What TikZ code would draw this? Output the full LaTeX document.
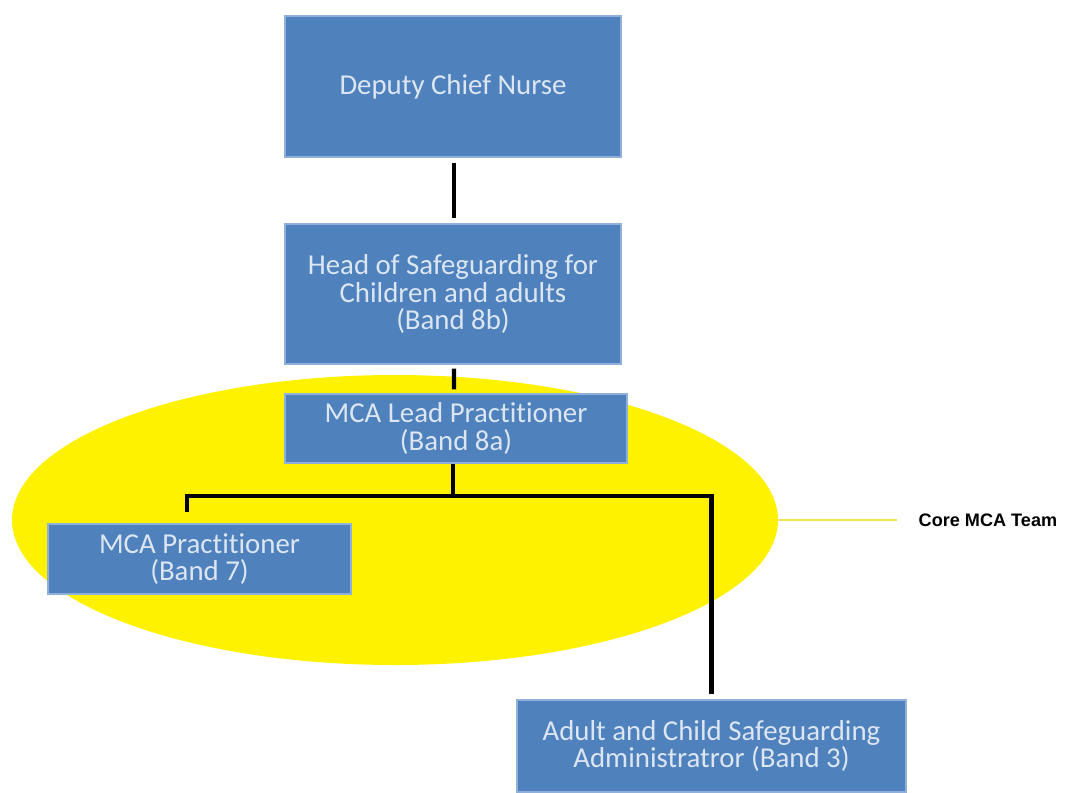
\documentclass[tikz,border=0pt]{standalone}
\usepackage{fontspec}
\setmainfont{Carlito}[Ligatures=NoCommon]
\newfontfamily\labelfont{Liberation Sans}
\usepackage{xcolor}
\usetikzlibrary{shapes.geometric,positioning}
\definecolor{boxblue}{HTML}{4F81BD}
\definecolor{boxedge}{HTML}{8EB0DA}
\definecolor{boxtext}{HTML}{DCE6F2}
\definecolor{teamyellow}{HTML}{FFF200}
\definecolor{tagyellow}{HTML}{F3E74C}

\begin{document}
\begin{tikzpicture}[
    rolebox/.style={shape=rectangle, fill=boxblue, draw=boxedge, line width=0.6pt,
      text=boxtext, align=center, inner sep=0pt,
      font=\fontsize{16.4}{15.5}\selectfont},
    link/.style={line width=2.3pt, black}]
    \useasboundingbox (0,0) rectangle (21.34,-15.84);
    \node[shape=ellipse, fill=teamyellow, minimum width=15.32cm, minimum height=5.8cm, inner sep=0pt] (team) at (7.9,-10.4) {};
    \node[rolebox, minimum width=6.72cm, minimum height=2.82cm] (chief) at (9.06,-1.73) {Deputy Chief Nurse};
    \node[rolebox, minimum width=6.72cm, minimum height=2.80cm] (head) at (9.06,-5.88) {Head of Safeguarding for\\Children and adults\\(Band 8b)};
    \node[rolebox, minimum width=6.84cm, minimum height=1.38cm] (lead) at (9.12,-8.57) {MCA Lead Practitioner\\(Band 8a)};
    \node[rolebox, minimum width=6.06cm, minimum height=1.40cm] (prac) at (3.99,-11.18) {MCA Practitioner\\(Band 7)};
    \node[rolebox, minimum width=7.78cm, minimum height=1.84cm] (admin) at (14.23,-14.92) {Adult and Child Safeguarding\\Administratror (Band 3)};
    \draw[link] ([xshift=0.02cm,yshift=-0.1cm]chief.south) -- ([xshift=0.02cm,yshift=0.1cm]head.north);
    \draw[link] ([xshift=0.02cm,yshift=-0.08cm]head.south) -- ([xshift=-0.04cm,yshift=0.08cm]lead.north);
    \draw[link] ([xshift=-0.06cm]lead.south) -- ++(0,-0.64) coordinate (split);
    \draw[link] ([xshift=-0.25cm,yshift=0.22cm]prac.north) |- (split) -| ([yshift=0.1cm]admin.north);
    \draw[tagyellow, line width=1.6pt] (team.east) -- ++(2.38,0) coordinate (tag);
    \node[anchor=west, font=\labelfont\bfseries\fontsize{10.3}{12}\selectfont, inner sep=0pt] (core) at ([xshift=0.42cm]tag) {Core MCA Team};
  \end{tikzpicture}
\end{document}
